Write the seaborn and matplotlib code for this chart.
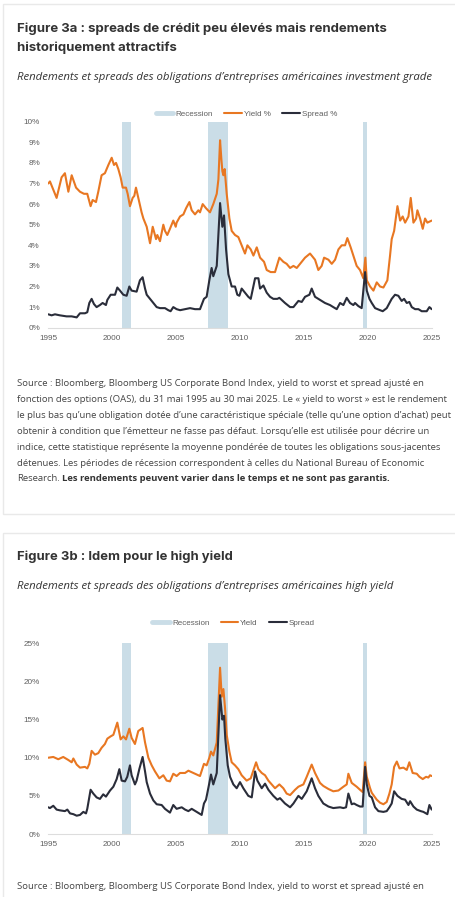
import pandas as pd
import matplotlib.pyplot as plt
import matplotlib.patches as mpatches
from matplotlib.lines import Line2D
import seaborn as sns

# ---- data (decimal years, values in %) ----
rec_start = [2001.17, 2007.92, 2020.08]
rec_end = [2001.92, 2009.50, 2020.33]

x_ticks = [1995.42, 2000.42, 2005.42, 2010.42, 2015.42, 2020.42, 2025.42]
x_labels = ["1995", "2000", "2005", "2010", "2015", "2020", "2025"]

# Figure 3a : investment grade
ig_yield_t = [1995.42, 1995.55, 1996.07, 1996.46, 1996.72, 1996.99, 1997.25, 1997.59, 1997.90, 1998.21,
              1998.47, 1998.73, 1998.89, 1999.15, 1999.33, 1999.46, 1999.59, 1999.85, 2000.12, 2000.38,
              2000.56, 2000.72, 2000.90, 2001.08, 2001.24, 2001.50, 2001.63, 2001.81, 2002.02, 2002.15,
              2002.28, 2002.46, 2002.72, 2002.86, 2003.12, 2003.38, 2003.59, 2003.85, 2003.95, 2004.16,
              2004.42, 2004.55, 2004.73, 2004.94, 2005.20, 2005.39, 2005.46, 2005.73, 2005.99, 2006.20,
              2006.46, 2006.64, 2006.90, 2007.16, 2007.29, 2007.50, 2007.76, 2008.07, 2008.33, 2008.60,
              2008.73, 2008.86, 2008.96, 2009.04, 2009.12, 2009.22, 2009.38, 2009.59, 2009.77, 2010.03,
              2010.29, 2010.55, 2010.81, 2011.00, 2011.26, 2011.47, 2011.73, 2011.99, 2012.30, 2012.51,
              2012.82, 2013.16, 2013.50, 2013.81, 2014.07, 2014.34, 2014.60, 2014.86, 2015.25, 2015.51,
              2015.90, 2016.29, 2016.55, 2016.81, 2017.00, 2017.34, 2017.60, 2017.86, 2018.12, 2018.38,
              2018.64, 2018.82, 2019.08, 2019.29, 2019.55, 2019.81, 2020.07, 2020.23, 2020.34, 2020.60,
              2020.86, 2021.12, 2021.38, 2021.64, 2021.95, 2022.16, 2022.29, 2022.48, 2022.74, 2022.95,
              2023.15, 2023.34, 2023.60, 2023.78, 2023.99, 2024.20, 2024.30, 2024.51, 2024.72, 2024.90,
              2025.08, 2025.42]
ig_yield = [7.0, 7.1, 6.3, 7.3, 7.5, 6.6, 7.4, 6.8, 6.6, 6.5,
            6.5, 5.9, 6.2, 6.1, 6.6, 7.0, 7.4, 7.5, 7.9, 8.25,
            7.9, 8.0, 7.7, 7.3, 6.8, 6.8, 6.5, 5.9, 6.3, 6.4,
            6.8, 6.3, 5.6, 5.3, 4.9, 4.1, 4.9, 4.3, 4.5, 4.2,
            5.0, 4.7, 4.5, 4.8, 5.2, 4.9, 5.1, 5.4, 5.5, 5.8,
            6.1, 5.7, 5.5, 5.7, 5.6, 6.0, 5.8, 5.6, 6.0, 6.5,
            7.2, 9.1, 8.2, 7.6, 7.4, 7.7, 6.5, 5.3, 4.7, 4.5,
            4.4, 4.0, 3.6, 4.0, 3.8, 3.5, 3.9, 3.4, 3.2, 2.8,
            2.7, 2.7, 3.4, 3.2, 3.1, 2.9, 3.0, 2.9, 3.2, 3.4,
            3.6, 3.3, 2.8, 3.0, 3.4, 3.3, 3.1, 3.3, 3.8, 4.0,
            4.0, 4.35, 3.9, 3.5, 3.0, 2.8, 2.4, 3.4, 2.3, 2.0,
            1.8, 2.2, 2.0, 1.95, 2.3, 3.5, 4.3, 4.7, 5.9, 5.2,
            5.4, 5.1, 5.4, 6.3, 5.1, 5.3, 5.7, 5.3, 4.8, 5.3,
            5.1, 5.2]

ig_spread_t = [1995.42, 1995.68, 1995.94, 1996.33, 1996.85, 1997.25, 1997.64, 1997.90, 1998.29, 1998.47,
               1998.63, 1998.81, 1998.99, 1999.20, 1999.46, 1999.67, 1999.93, 2000.04, 2000.30, 2000.64,
               2000.82, 2001.03, 2001.29, 2001.55, 2001.76, 2001.94, 2002.33, 2002.59, 2002.80, 2002.99,
               2003.12, 2003.51, 2003.90, 2004.16, 2004.55, 2004.81, 2004.99, 2005.20, 2005.46, 2005.73,
               2006.12, 2006.51, 2006.90, 2007.29, 2007.60, 2007.81, 2008.02, 2008.20, 2008.33, 2008.60,
               2008.86, 2009.04, 2009.17, 2009.33, 2009.51, 2009.77, 2010.03, 2010.21, 2010.37, 2010.55,
               2010.81, 2011.07, 2011.26, 2011.60, 2011.86, 2011.99, 2012.25, 2012.51, 2012.77, 2013.03,
               2013.34, 2013.50, 2013.68, 2013.94, 2014.34, 2014.60, 2014.99, 2015.25, 2015.51, 2015.85,
               2016.03, 2016.29, 2016.55, 2016.81, 2017.07, 2017.46, 2017.72, 2017.99, 2018.25, 2018.51,
               2018.77, 2019.03, 2019.29, 2019.42, 2019.68, 2019.94, 2020.21, 2020.34, 2020.55, 2020.73,
               2020.99, 2021.38, 2021.59, 2021.90, 2022.03, 2022.29, 2022.55, 2022.81, 2023.07, 2023.26,
               2023.47, 2023.67, 2023.86, 2024.12, 2024.38, 2024.64, 2025.03, 2025.24, 2025.42]
ig_spread = [0.65, 0.6, 0.65, 0.6, 0.55, 0.55, 0.5, 0.7, 0.7, 0.75,
             1.2, 1.4, 1.15, 1.0, 1.1, 1.2, 1.1, 1.35, 1.6, 1.6,
             1.95, 1.8, 1.6, 1.55, 2.0, 1.8, 1.75, 2.3, 2.45, 1.9,
             1.6, 1.3, 1.0, 0.95, 0.95, 0.85, 0.8, 1.0, 0.9, 0.85,
             0.9, 0.95, 0.9, 0.9, 1.4, 1.5, 2.3, 2.9, 2.5, 3.0,
             6.05, 4.9, 5.45, 3.8, 2.6, 2.0, 2.0, 1.6, 1.55, 1.9,
             1.7, 1.5, 1.4, 2.4, 2.4, 1.9, 2.05, 1.7, 1.5, 1.4,
             1.4, 1.45, 1.35, 1.2, 1.0, 1.0, 1.3, 1.25, 1.5, 1.6,
             1.9, 1.5, 1.4, 1.3, 1.2, 1.1, 1.0, 0.9, 1.2, 1.1,
             1.45, 1.2, 1.1, 1.2, 1.05, 0.95, 2.7, 1.8, 1.4, 1.2,
             0.95, 0.85, 0.8, 0.95, 1.1, 1.4, 1.6, 1.55, 1.3, 1.4,
             1.2, 1.25, 1.0, 0.9, 0.9, 0.8, 0.8, 1.0, 0.9]

# Figure 3b : high yield
hy_yield_t = [1995.42, 1995.81, 1996.20, 1996.59, 1996.99, 1997.25, 1997.38, 1997.64, 1997.90, 1998.29,
              1998.47, 1998.63, 1998.81, 1999.07, 1999.33, 1999.59, 1999.85, 2000.04, 2000.30, 2000.51,
              2000.82, 2001.08, 2001.29, 2001.50, 2001.76, 2001.94, 2002.20, 2002.46, 2002.80, 2002.99,
              2003.25, 2003.51, 2003.77, 2004.11, 2004.42, 2004.68, 2004.94, 2005.20, 2005.46, 2005.73,
              2006.12, 2006.38, 2006.64, 2007.03, 2007.29, 2007.60, 2007.81, 2008.02, 2008.15, 2008.33,
              2008.60, 2008.86, 2008.99, 2009.12, 2009.25, 2009.38, 2009.59, 2009.77, 2010.03, 2010.29,
              2010.55, 2010.94, 2011.26, 2011.68, 2011.86, 2012.12, 2012.38, 2012.64, 2012.90, 2013.16,
              2013.50, 2013.81, 2014.07, 2014.34, 2014.73, 2014.99, 2015.38, 2015.64, 2016.03, 2016.29,
              2016.68, 2016.94, 2017.34, 2017.72, 2018.12, 2018.51, 2018.77, 2018.90, 2019.16, 2019.55,
              2019.81, 2020.02, 2020.21, 2020.34, 2020.60, 2020.73, 2021.12, 2021.38, 2021.64, 2021.90,
              2022.11, 2022.29, 2022.48, 2022.69, 2022.90, 2023.21, 2023.47, 2023.67, 2023.93, 2024.25,
              2024.46, 2024.72, 2024.98, 2025.16, 2025.29, 2025.42]
hy_yield = [10.0, 10.1, 9.8, 10.1, 9.7, 9.4, 9.9, 9.1, 8.7, 8.8,
            8.6, 9.2, 10.9, 10.4, 10.6, 11.3, 11.8, 12.5, 12.8, 13.0,
            14.6, 12.4, 12.8, 12.4, 13.8, 12.6, 11.8, 13.5, 13.9, 12.0,
            10.0, 9.0, 8.2, 7.3, 7.7, 7.0, 6.9, 7.9, 7.6, 8.0,
            8.0, 8.3, 8.1, 7.8, 7.6, 9.2, 9.0, 10.0, 10.8, 10.3,
            12.0, 21.8, 18.0, 19.0, 16.5, 13.0, 10.8, 9.4, 9.0, 8.5,
            7.7, 7.0, 7.3, 9.4, 8.5, 8.0, 7.7, 7.0, 6.5, 6.0,
            6.5, 6.0, 5.3, 5.1, 5.8, 6.2, 6.5, 7.5, 9.1, 8.0,
            6.7, 6.3, 5.9, 5.6, 5.7, 6.2, 6.5, 7.9, 6.7, 6.2,
            5.8, 5.5, 9.4, 7.5, 6.0, 5.4, 4.5, 4.1, 3.9, 4.2,
            5.3, 6.5, 8.8, 9.5, 8.6, 8.7, 8.4, 9.4, 8.0, 7.9,
            7.5, 7.2, 7.5, 7.4, 7.7, 7.6]

hy_spread_t = [1995.42, 1995.55, 1995.81, 1996.07, 1996.33, 1996.72, 1996.91, 1997.12, 1997.38, 1997.64,
               1997.90, 1998.16, 1998.37, 1998.47, 1998.73, 1998.94, 1999.20, 1999.46, 1999.72, 1999.93,
               2000.25, 2000.51, 2000.77, 2000.98, 2001.16, 2001.42, 2001.60, 2001.81, 2001.94, 2002.20,
               2002.33, 2002.54, 2002.80, 2002.99, 2003.12, 2003.38, 2003.64, 2003.90, 2004.29, 2004.55,
               2004.94, 2005.20, 2005.46, 2005.86, 2006.12, 2006.38, 2006.64, 2007.03, 2007.42, 2007.60,
               2007.76, 2007.94, 2008.15, 2008.33, 2008.60, 2008.86, 2009.04, 2009.17, 2009.27, 2009.46,
               2009.64, 2009.90, 2010.16, 2010.42, 2010.68, 2011.07, 2011.34, 2011.60, 2011.78, 2012.12,
               2012.38, 2012.64, 2013.03, 2013.34, 2013.55, 2013.94, 2014.34, 2014.60, 2014.99, 2015.25,
               2015.64, 2016.03, 2016.29, 2016.55, 2016.94, 2017.34, 2017.72, 2018.25, 2018.51, 2018.72,
               2018.90, 2019.16, 2019.34, 2019.55, 2019.81, 2020.02, 2020.21, 2020.34, 2020.55, 2020.73,
               2020.99, 2021.25, 2021.64, 2021.90, 2022.11, 2022.29, 2022.48, 2022.74, 2023.07, 2023.34,
               2023.60, 2023.73, 2023.99, 2024.25, 2024.56, 2024.77, 2025.08, 2025.24, 2025.42]
hy_spread = [3.5, 3.4, 3.7, 3.2, 3.1, 3.0, 3.2, 2.7, 2.6, 2.4,
             2.5, 2.9, 2.7, 3.3, 5.8, 5.3, 4.8, 4.6, 5.2, 4.9,
             5.7, 6.2, 7.2, 8.5, 7.0, 6.9, 7.5, 9.0, 7.7, 6.5,
             7.0, 8.5, 10.1, 8.2, 6.8, 5.3, 4.4, 3.9, 3.8, 3.3,
             2.8, 3.8, 3.3, 3.5, 3.2, 3.0, 3.3, 2.9, 2.5, 4.0,
             4.5, 6.0, 7.8, 6.5, 8.0, 18.2, 15.0, 15.5, 12.5, 9.0,
             7.5, 6.5, 6.0, 6.8, 6.0, 5.0, 4.8, 8.2, 7.0, 6.0,
             6.6, 5.8, 5.0, 4.5, 4.7, 4.0, 3.5, 4.0, 5.0, 4.6,
             5.6, 7.3, 6.0, 5.0, 4.0, 3.6, 3.4, 3.5, 3.4, 3.5,
             5.3, 3.9, 4.0, 3.8, 3.6, 3.6, 8.8, 6.5, 5.0, 4.8,
             3.5, 3.0, 2.9, 3.0, 3.5, 4.0, 5.6, 5.0, 4.6, 4.5,
             3.8, 4.3, 3.6, 3.2, 3.0, 2.9, 2.6, 3.8, 3.2]

ig_yticks = [0, 1, 2, 3, 4, 5, 6, 7, 8, 9, 10]
hy_yticks = [0, 5, 10, 15, 20, 25]

title_a = ["Figure 3a : spreads de crédit peu élevés mais rendements", "historiquement attractifs"]
subtitle_a = "Rendements et spreads des obligations d’entreprises américaines investment grade"
title_b = "Figure 3b : Idem pour le high yield"
subtitle_b = "Rendements et spreads des obligations d’entreprises américaines high yield"
source_lines = [
    "Source : Bloomberg, Bloomberg US Corporate Bond Index, yield to worst et spread ajusté en",
    "fonction des options (OAS), du 31 mai 1995 au 30 mai 2025. Le « yield to worst » est le rendement",
    "le plus bas qu’une obligation dotée d’une caractéristique spéciale (telle qu’une option d’achat) peut",
    "obtenir à condition que l’émetteur ne fasse pas défaut. Lorsqu’elle est utilisée pour décrire un",
    "indice, cette statistique représente la moyenne pondérée de toutes les obligations sous-jacentes",
    "détenues. Les périodes de récession correspondent à celles du National Bureau of Economic",
]
source_last = "Research."
source_bold = "Les rendements peuvent varier dans le temps et ne sont pas garantis."

ORANGE = "#E87722"
DARK = "#2A2D3A"
REC = "#CADDE7"
TICK = "#5f5f5f"
TEXT = "#333333"

W, H = 455, 897

sns.set_theme(style="white")
plt.rcParams["font.family"] = ["Open Sans", "DejaVu Sans"]

fig = plt.figure(figsize=(W / 100, H / 100), dpi=100)
fig.patch.set_facecolor("white")
renderer = fig.canvas.get_renderer()


def fx(px):
    return px / W


def fy(py):
    return 1 - py / H


def fit_text(x, y, s, width, size, **kw):
    t = fig.text(fx(x), fy(y), s, fontsize=size, va="center", ha="left", **kw)
    w = t.get_window_extent(renderer).width
    t.set_fontsize(size * width / w)
    return t


# cards
for top, bot in [(4, 514), (533, 910)]:
    fig.patches.append(mpatches.Rectangle((fx(2.5), fy(bot)), fx(480), (bot - top) / H,
                                          transform=fig.transFigure, fill=False,
                                          edgecolor="#e9e9e9", lw=1))

# titles / subtitles
t = fit_text(17, 28.3, title_a[0], 371.6, 9.5, family=["Inter", "DejaVu Sans"],
             fontweight="bold", color=TEXT)
fig.text(fx(17), fy(47.7), title_a[1], fontsize=t.get_fontsize(), va="center",
         family=["Inter", "DejaVu Sans"], fontweight="bold", color=TEXT)
fit_text(17, 77.7, subtitle_a, 416, 7.2, style="italic", color=TEXT)
fit_text(17, 556.7, title_b, 216, 9.5, family=["Inter", "DejaVu Sans"],
         fontweight="bold", color=TEXT)
fit_text(17, 586, subtitle_b, 376.7, 7.2, style="italic", color=TEXT)

# source paragraph
s0 = fit_text(17, 384, source_lines[0], 404, 6.6, color="#444444")
fs = s0.get_fontsize()
for i, line in enumerate(source_lines[1:], start=1):
    fig.text(fx(17), fy(384 + 15.8 * i), line, fontsize=fs, va="center", color="#444444")
y_last = 384 + 15.8 * 6
tl = fig.text(fx(17), fy(y_last), source_last, fontsize=fs, va="center", color="#444444")
wl = tl.get_window_extent(renderer).width
fig.text(fx(17 + wl + 2.6), fy(y_last), source_bold, fontsize=fs, va="center",
         color="#333333", fontweight="bold")
fig.text(fx(17), fy(886), source_lines[0], fontsize=fs, va="center", color="#444444")


def draw_chart(top, bot, yt, yv, st, sv, yticks, legend_y, legend_x, labels):
    ax = fig.add_axes([fx(48.3), fy(bot), fx(431.7 - 48.3), (bot - top) / H])
    for a, b in zip(rec_start, rec_end):
        ax.axvspan(a, b, color=REC, lw=0, zorder=0)
    sns.lineplot(x=yt, y=yv, ax=ax, color=ORANGE, lw=1.5, estimator=None, sort=False)
    sns.lineplot(x=st, y=sv, ax=ax, color=DARK, lw=1.5, estimator=None, sort=False)
    ax.set_xlim(x_ticks[0], x_ticks[-1])
    ax.set_ylim(yticks[0], yticks[-1])
    ax.set_xticks(x_ticks)
    ax.set_xticklabels(x_labels)
    ax.set_yticks(yticks)
    ax.set_yticklabels([f"{v}%" for v in yticks])
    ax.tick_params(length=0, labelsize=5.9, labelcolor=TICK)
    ax.tick_params(axis="y", pad=6)
    ax.tick_params(axis="x", pad=5.0)
    for lab in ax.get_xticklabels() + ax.get_yticklabels():
        lab.set_family(["Liberation Sans", "DejaVu Sans"])
    for side in ["top", "right", "left"]:
        ax.spines[side].set_visible(False)
    ax.spines["bottom"].set_color("#dddddd")
    ax.spines["bottom"].set_linewidth(0.8)
    ax.set_facecolor("none")
    ax.set_xlabel("")
    ax.set_ylabel("")
    handles = [Line2D([], [], color=REC, lw=3.5),
               Line2D([], [], color=ORANGE, lw=1.5),
               Line2D([], [], color=DARK, lw=1.5)]
    leg = fig.legend(handles, labels, loc="center", bbox_to_anchor=(fx(legend_x), fy(legend_y)),
                     ncol=3, frameon=False, fontsize=5.8, handlelength=2.2, handletextpad=0.25,
                     columnspacing=1.4, labelcolor=TICK)
    for txt in leg.get_texts():
        txt.set_family(["Liberation Sans", "DejaVu Sans"])
    return ax


draw_chart(121.7, 327.7, ig_yield_t, ig_yield, ig_spread_t, ig_spread, ig_yticks,
           114, 246.4, ["Recession", "Yield %", "Spread %"])
draw_chart(643.3, 834, hy_yield_t, hy_yield, hy_spread_t, hy_spread, hy_yticks,
           622.7, 233.5, ["Recession", "Yield", "Spread"])

fig.savefig("out.png", dpi=100, facecolor="white")
